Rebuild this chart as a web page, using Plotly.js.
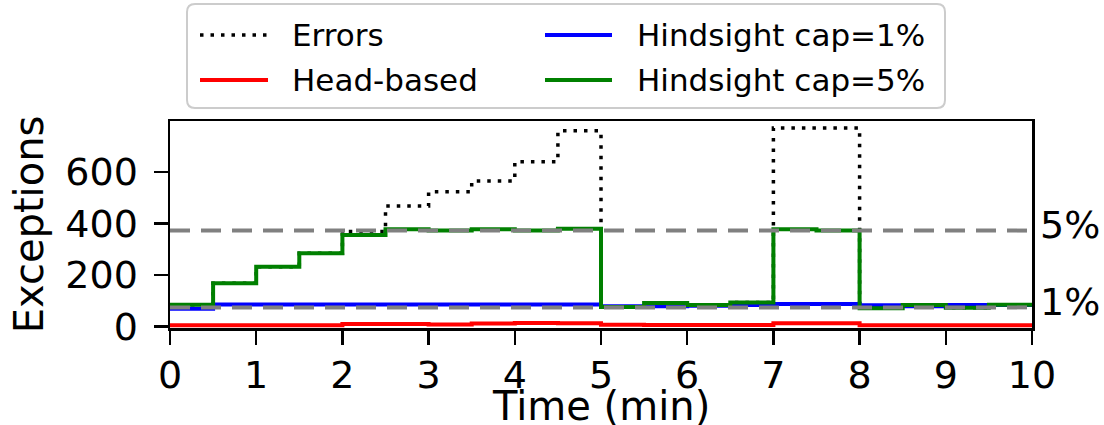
<!DOCTYPE html>
<html><head><meta charset="utf-8">
<script src="https://cdn.plot.ly/plotly-3.0.1.min.js"></script>
<style>html,body{margin:0;padding:0;background:#fff}#chart{width:1104px;height:425px}</style>
</head><body><div id="chart"></div>
<script>
// ---- data ----
const binStart = [0,0.5,1,1.5,2,2.5,3,3.5,4,4.5,5,5.5,6,6.5,7,7.5,8,8.5,9,9.5];
const timeEnd = 10;
const errors    = [85,169,233,285,369,468,524,565,640,760,76,92,84,94,771,771,72,84,74,85];
const headBased = [6,6,6,6,11,11,9,12,14,13,8,7,7,7,13,13,6,6,6,6];
const hindsight1 = [70,86,86,86,86,86,86,86,86,86,79,79,81,84,88,88,83,79,84,84];
const hindsight5 = [85,169,233,285,356,378,373,378,373,380,76,92,84,94,378,373,72,84,74,85];
const capValues = [373, 75];
const capLabels = ['5%', '1%'];
const seriesNames = ['Errors', 'Head-based', 'Hindsight cap=1%', 'Hindsight cap=5%'];
const yTicks = [0, 200, 400, 600];
const xTicks = [0,1,2,3,4,5,6,7,8,9,10];
const xTitle = 'Time (min)';
const yTitle = 'Exceptions';

// ---- styling ----
const FONT = 'DejaVu Sans';
const W = 1104, H = 425;
const M = {l: 170, r: 72, t: 121, b: 97};
const PW = W - M.l - M.r, PH = H - M.t - M.b;
const px = x => (x - M.l) / PW;
const py = y => (H - M.b - y) / PH;

const xs = binStart.concat([timeEnd]);
const ext = a => a.concat([a[a.length - 1]]);

const styles = [
  {color: '#000000', width: 3.5, dash: '3.5px,7px'},
  {color: '#ff0000', width: 4, dash: 'solid'},
  {color: '#0000ff', width: 4, dash: 'solid'},
  {color: '#008000', width: 4, dash: 'solid'}
];
const values = [errors, headBased, hindsight1, hindsight5];

const traces = [];
capValues.forEach((v, i) => {
  traces.push({x: [0, timeEnd], y: [v, v], yaxis: 'y2', mode: 'lines', showlegend: false,
    hoverinfo: 'skip', line: {color: '#808080', width: 4, dash: '20px,11px'}});
});
values.forEach((vals, i) => {
  traces.push({x: xs, y: ext(vals), name: seriesNames[i], mode: 'lines', showlegend: false,
    line: {shape: 'hv', color: styles[i].color, width: styles[i].width, dash: styles[i].dash}});
});

// manual legend (two columns, column-major like the original)
const shapes = [];
const annotations = [];
const bx0 = 187, bx1 = 945, by0 = 4, by1 = 108, rad = 8;
const rx = rad / PW, ry = rad / PH;
const X0 = px(bx0), X1 = px(bx1), Y0 = py(by1), Y1 = py(by0);
shapes.push({type: 'path', xref: 'paper', yref: 'paper', layer: 'above',
  path: `M${X0+rx},${Y0} L${X1-rx},${Y0} Q${X1},${Y0} ${X1},${Y0+ry} L${X1},${Y1-ry} Q${X1},${Y1} ${X1-rx},${Y1} L${X0+rx},${Y1} Q${X0},${Y1} ${X0},${Y1-ry} L${X0},${Y0+ry} Q${X0},${Y0} ${X0+rx},${Y0} Z`,
  fillcolor: 'rgba(255,255,255,0.8)', line: {color: '#cccccc', width: 2}});
const cols = [{l0: 200, l1: 268, t: 290}, {l0: 545, l1: 612, t: 635}];
const rows = [35, 80];
seriesNames.forEach((n, i) => {
  const c = cols[Math.floor(i / 2)], r = rows[i % 2];
  shapes.push({type: 'line', xref: 'paper', yref: 'paper', layer: 'above',
    x0: px(c.l0), x1: px(c.l1), y0: py(r), y1: py(r),
    line: {color: styles[i].color, width: styles[i].width, dash: styles[i].dash}});
  annotations.push({xref: 'paper', yref: 'paper', x: px(c.t), y: py(r), xanchor: 'left', yanchor: 'middle',
    text: n, showarrow: false, font: {family: FONT, size: 31, color: '#000'}});
});

// x-axis title placed just under the tick labels, as in the original
annotations.push({xref: 'paper', yref: 'paper', x: 0.5, y: py(406), xanchor: 'center', yanchor: 'middle',
  text: xTitle, showarrow: false, font: {family: FONT, size: 40, color: '#000'}});

const axisCommon = {showgrid: false, zeroline: false, showline: true, linecolor: '#000', linewidth: 2.5,
  mirror: true, ticks: 'outside', ticklen: 14, tickwidth: 2.5, tickcolor: '#000',
  tickfont: {family: FONT, size: 38, color: '#000'}};

const layout = {
  width: W, height: H, margin: M, paper_bgcolor: '#fff', plot_bgcolor: '#fff',
  showlegend: false,
  font: {family: FONT, color: '#000'},
  xaxis: Object.assign({}, axisCommon, {range: [0, timeEnd], tickvals: xTicks, ticktext: xTicks.map(String),
    ticklabelstandoff: -2}),
  yaxis: Object.assign({}, axisCommon, {range: [-5, 798], tickvals: yTicks, ticktext: yTicks.map(String),
    ticklabelstandoff: 8,
    title: {text: yTitle, font: {family: FONT, size: 40}, standoff: 10}}),
  yaxis2: {overlaying: 'y', side: 'right', range: [-5, 798], tickvals: capValues, ticktext: capLabels,
    showgrid: false, zeroline: false, showline: false, ticks: '', ticklabelshift: -6, ticklabelstandoff: 7,
    tickfont: {family: FONT, size: 38, color: '#000'}},
  shapes: shapes, annotations: annotations
};

Plotly.newPlot('chart', traces, layout, {displayModeBar: false, staticPlot: true});
</script></body></html>
